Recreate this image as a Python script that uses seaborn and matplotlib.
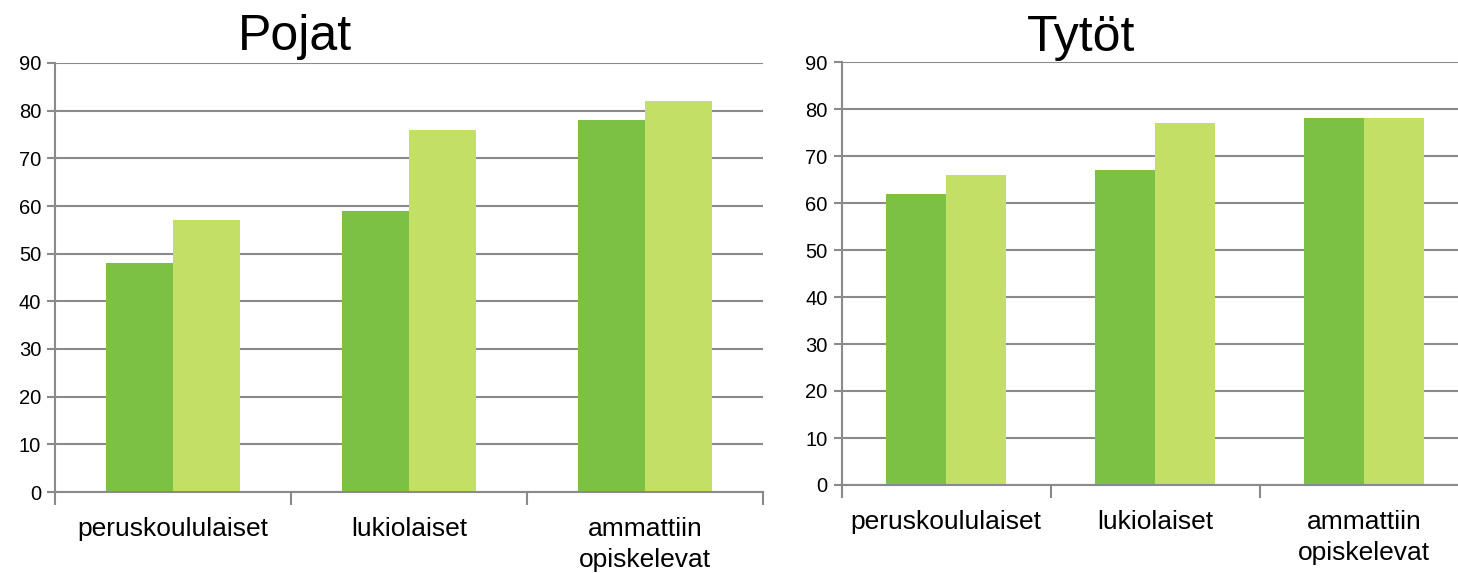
import pandas as pd
import matplotlib
matplotlib.use("Agg")
import matplotlib.pyplot as plt
import seaborn as sns

# Luokat ja arvot kuvasta luettuina
ryhmat = ["peruskoululaiset", "lukiolaiset", "ammattiin\nopiskelevat"]
sarjat = ["sarja 1", "sarja 2"]
pojat_1 = [48, 59, 78]
pojat_2 = [57, 76, 82]
tytot_1 = [62, 67, 78]
tytot_2 = [66, 77, 78]

varit = ["#7cc143", "#c4df66"]
harmaa = "#8a8a8a"

sns.set_style("white")
plt.rcParams["font.family"] = ["Liberation Sans", "DejaVu Sans"]
plt.rcParams["text.color"] = "black"
plt.rcParams["xtick.labelcolor"] = "black"
plt.rcParams["ytick.labelcolor"] = "black"


def taulukko(arvot1, arvot2):
    return pd.DataFrame({
        "ryhma": ryhmat * 2,
        "sarja": [sarjat[0]] * 3 + [sarjat[1]] * 3,
        "arvo": arvot1 + arvot2,
    })


fig = plt.figure(figsize=(14.58, 5.73), dpi=100)
ax1 = fig.add_axes([55 / 1458, 1 - 492 / 573, 708 / 1458, 429 / 573])
ax2 = fig.add_axes([841.5 / 1458, 1 - 485 / 573, 627 / 1458, 423 / 573])


def piirra(ax, df):
    sns.barplot(data=df, x="ryhma", y="arvo", hue="sarja", palette=varit,
                width=0.57, saturation=1, legend=False, ax=ax, linewidth=0)
    ax.set_ylim(0, 90)
    ax.set_xlim(-0.5, 2.5)
    ax.set_yticks(range(0, 91, 10))
    ax.set_xlabel("")
    ax.set_ylabel("")
    ax.yaxis.grid(True, color=harmaa, linewidth=1.5)
    ax.set_axisbelow(True)
    for s in ["top", "right"]:
        ax.spines[s].set_visible(False)
    for s in ["left", "bottom"]:
        ax.spines[s].set_color(harmaa)
        ax.spines[s].set_linewidth(1.5)
    ax.set_xticks([-0.5, 0.5, 1.5, 2.5], minor=True)
    ax.tick_params(axis="x", which="major", length=0, pad=18, labelsize=19,
                   labelcolor="black")
    ax.tick_params(axis="x", which="minor", length=9, width=1.5, color=harmaa,
                   direction="out", bottom=True)
    ax.tick_params(axis="y", length=6, width=1.5, color=harmaa, direction="out",
                   left=True, labelsize=14.5, pad=4, labelcolor="black")
    for lab in ax.get_xticklabels():
        lab.set_verticalalignment("top")
        lab.set_linespacing(1.35)


piirra(ax1, taulukko(pojat_1, pojat_2))
piirra(ax2, taulukko(tytot_1, tytot_2))

fig.text(295 / 1458, 1 - 50 / 573, "Pojat", ha="center", va="baseline", fontsize=36)
fig.text(1081 / 1458, 1 - 51 / 573, "Tytöt", ha="center", va="baseline", fontsize=36)

fig.savefig("out.png", dpi=100)
